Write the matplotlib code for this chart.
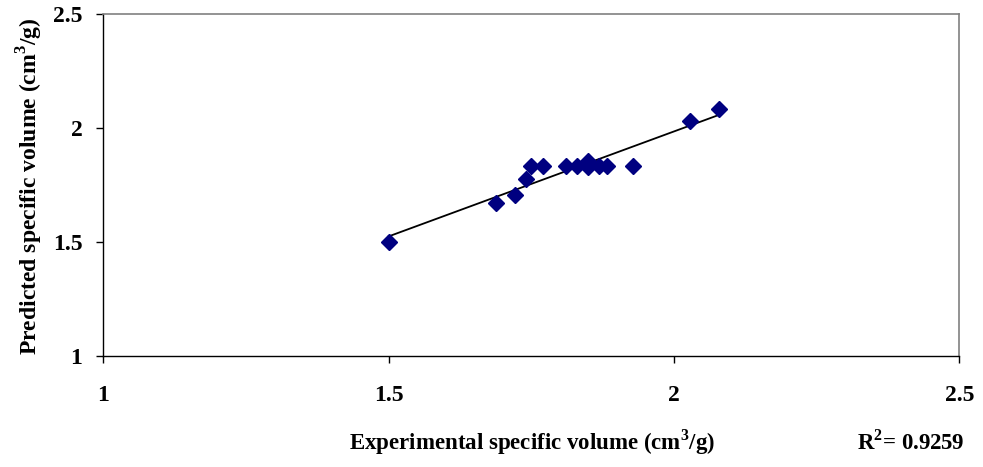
import numpy as np
import matplotlib.pyplot as plt

# experimental vs predicted specific volume (cm3/g)
experimental = [1.50, 1.689, 1.721, 1.740, 1.749, 1.770, 1.811, 1.830, 1.849, 1.849, 1.869, 1.882, 1.929, 2.028, 2.079]
predicted = [1.50, 1.670, 1.705, 1.775, 1.833, 1.833, 1.833, 1.833, 1.857, 1.830, 1.833, 1.833, 1.833, 2.032, 2.083]
r2_text = '0.9259'

plt.rcParams['font.family'] = 'Liberation Serif'
plt.rcParams['font.weight'] = 'bold'
plt.rcParams['mathtext.fontset'] = 'custom'
plt.rcParams['mathtext.rm'] = 'Liberation Serif:bold'
plt.rcParams['mathtext.bf'] = 'Liberation Serif:bold'

fig = plt.figure(figsize=(9.83, 4.67), dpi=100)
ax = fig.add_axes([103.3 / 983, 1 - 356 / 467, (959.3 - 103.3) / 983, (356 - 14) / 467])

x = np.array(experimental)
y = np.array(predicted)
ax.plot(x, y, 'D', color='#000080', markersize=8, zorder=3)

# linear trendline
k, b = np.polyfit(x, y, 1)
xl = np.array([x.min(), x.max()])
ax.plot(xl, k * xl + b, color='black', lw=1.3, zorder=2)

ax.set_xlim(1, 2.5)
ax.set_ylim(1, 2.5)
ax.set_xticks([1, 1.5, 2, 2.5])
ax.set_yticks([1, 1.5, 2, 2.5])
ax.set_xticklabels(['1', '1.5', '2', '2.5'], fontsize=17, fontweight='bold')
ax.set_yticklabels(['1', '1.5', '2', '2.5'], fontsize=17, fontweight='bold')
ax.tick_params(direction='out', length=5, width=1)
ax.tick_params(axis='x', pad=16)
ax.tick_params(axis='y', pad=10)

for s in ['left', 'bottom']:
    ax.spines[s].set_color('black')
    ax.spines[s].set_linewidth(1)
for s in ['top', 'right']:
    ax.spines[s].set_color('#808080')
    ax.spines[s].set_linewidth(1.2)

fig.text(532 / 983, 1 - 442 / 467, r'Experimental specific volume (cm$^{3}$/g)',
         ha='center', va='center', fontsize=16.5, fontweight='bold')
fig.text(30 / 983, 1 - 186 / 467, r'Predicted specific volume (cm$^{3}$/g)',
         ha='center', va='center', rotation=90, fontsize=17, fontweight='bold')
fig.text(911 / 983, 1 - 442 / 467, r'R$^{2}$= ' + r2_text,
         ha='center', va='center', fontsize=16.5, fontweight='bold')

fig.savefig('out.png', dpi=100)
